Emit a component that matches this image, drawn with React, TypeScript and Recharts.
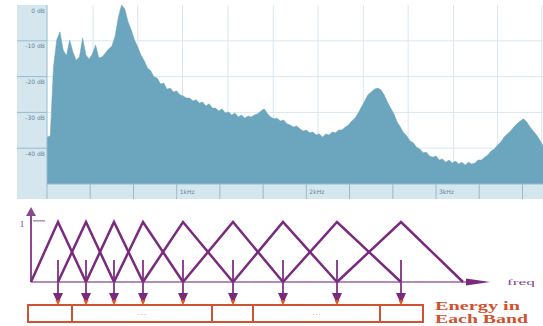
import {
  ComposedChart,
  Area,
  Line,
  Scatter,
  XAxis,
  YAxis,
  CartesianGrid,
  ReferenceLine,
  ReferenceArea,
  ReferenceDot,
} from "recharts"

// spectrum, one bin every 25 Hz starting at 0 Hz
const BIN_HZ = 25
const spectrumDb = [
  -36.9, -36.6, -17.3, -9.8, -7.5, -12.6, -14.2, -9.8, -13.1, -15.4,
  -14.5, -9.2, -14.0, -15.1, -13.7, -11.2, -14.8, -14.5, -13.4, -12.3,
  -11.5, -8.7, -3.4, 0, -1.1, -4.7, -7.0, -9.8, -11.7, -14.0,
  -15.6, -17.6, -18.4, -20.1, -20.4, -22.1, -21.8, -23.5, -23.2, -24.3,
  -24.0, -25.1, -25.4, -26.0, -26.0, -26.8, -26.5, -27.4, -27.1, -28.2,
  -27.6, -28.8, -28.8, -29.6, -29.0, -30.2, -29.9, -30.7, -30.2, -31.3,
  -30.7, -31.6, -31.0, -31.3, -30.7, -30.4, -29.6, -29.0, -30.4, -31.3,
  -31.8, -31.6, -32.4, -32.1, -33.2, -33.5, -34.1, -33.8, -34.6, -35.2,
  -34.9, -35.7, -35.5, -36.3, -36.0, -36.9, -36.0, -36.3, -35.5, -35.7,
  -34.9, -34.9, -34.1, -33.5, -32.4, -31.6, -30.2, -28.5, -26.8, -25.1,
  -24.3, -23.5, -23.2, -23.7, -25.1, -27.1, -28.8, -30.4, -32.7, -34.1,
  -35.7, -36.6, -38.0, -38.5, -39.7, -40.2, -41.3, -41.1, -42.2, -42.5,
  -42.2, -43.3, -43.0, -43.9, -43.3, -44.1, -43.6, -44.4, -43.9, -44.7,
  -43.9, -44.4, -44.1, -43.3, -43.3, -42.5, -41.9, -40.8, -40.2, -39.1,
  -38.3, -36.9, -36.0, -35.2, -34.1, -33.2, -32.4, -31.8, -32.7, -34.1,
  -35.2, -36.3, -37.7, -39.4,
]
const freqTicks = [0, 333, 667, 1000, 1333, 1667, 2000, 2333, 2667, 3000, 3333, 3667]
const freqTickLabels = ["", "", "", "1kHz", "", "", "2kHz", "", "", "3kHz", "", ""]
const gridFreqs = [355, 700, 1045, 1395, 1745, 2090, 2440, 2785, 3135, 3475, 3815]
const dbTicks = [0, -10, -20, -30, -40]
const dbGrid = [-10, -20, -30, -40]

// filterbank (arbitrary freq units), edges of the triangular bands
const bandEdges = [0, 27, 55, 83, 112, 152, 202, 252, 306, 370, 432]
// energy boxes under the arrows
const boxEdges = [-3, 41, 181, 222, 349, 392]
const boxLabels = ["", "···", "", "···", ""]

const spectrum = spectrumDb.map((db, i) => ({ hz: i * BIN_HZ, db }))
const filters = bandEdges.slice(0, -2).map((lo, i) => [
  { f: lo, v: 0 },
  { f: bandEdges[i + 1], v: 1 },
  { f: bandEdges[i + 2], v: 0 },
])
const bandCenters = bandEdges.slice(1, -1)

const PANEL = "#d6e6ee"
const GRID = "#d9e8f1"
const EDGE = "#96bccf"
const FILL = "#6ca5be"
const LABEL = "#5f889d"
const PURPLE = "#7a2b7e"
const SHAFT = "#8b4790"
const LIGHT_PURPLE = "#b48ab8"
const RED = "#cf5330"

const DbTick = (props: any) => {
  const { x, y, payload } = props
  return (
    <g>
      {payload.value !== 0 && <line x1={x - 30} x2={x} y1={y} y2={y} stroke={EDGE} />}
      <text x={x - 2} y={y + 5} textAnchor="end" dominantBaseline="central" fontSize={6} fill={LABEL} fontFamily="DejaVu Sans">
        {payload.value} dB
      </text>
    </g>
  )
}

const FreqTick = (props: any) => {
  const { x, y, payload } = props
  const label = freqTickLabels[freqTicks.indexOf(payload.value)]
  return (
    <g>
      <line x1={x} x2={x} y1={y} y2={y + 15} stroke={EDGE} />
      {label && (
        <text x={x + 3} y={y + 7} dominantBaseline="central" fontSize={6} fill={LABEL} fontFamily="DejaVu Sans">
          {label}
        </text>
      )}
    </g>
  )
}

const DownHead = (p: any) => (
  <g>
    <polygon points={`${p.cx - 5},${p.cy - 11} ${p.cx + 5},${p.cy - 11} ${p.cx},${p.cy}`} fill={PURPLE} />
    <polygon points={`${p.cx - 2.5},${p.cy - 4} ${p.cx + 2.5},${p.cy - 4} ${p.cx},${p.cy + 1}`} fill="#e0561c" />
  </g>
)

const UpHead = (p: any) => (
  <polygon points={`${p.cx - 5},${p.cy + 9} ${p.cx + 5},${p.cy + 9} ${p.cx},${p.cy}`} fill={SHAFT} />
)

const RightHead = (p: any) => (
  <polygon points={`${p.cx - 24},${p.cy - 3.5} ${p.cx - 24},${p.cy + 3.5} ${p.cx},${p.cy}`} fill={PURPLE} />
)

const dotPos = (vb: any) => ({ x: vb.x + (vb.width || 0) / 2, y: vb.y + (vb.height || 0) / 2 })

const FreqLabel = (p: any) => {
  const { x, y } = dotPos(p.viewBox)
  return (
    <text x={x} y={y} dominantBaseline="central" fontSize={9} fill={SHAFT} fontFamily="Liberation Serif" textLength={28} lengthAdjust="spacingAndGlyphs">
      freq
    </text>
  )
}

const EnergyLabel = (p: any) => {
  const { x, y } = dotPos(p.viewBox)
  return (
    <g fontSize={12} fill={RED} fontFamily="Liberation Serif" fontWeight="bold">
      <text x={x} y={y + 1} textLength={85} lengthAdjust="spacingAndGlyphs">
        Energy in
      </text>
      <text x={x} y={y + 14} textLength={93} lengthAdjust="spacingAndGlyphs">
        Each Band
      </text>
    </g>
  )
}

export default function App() {
  return (
    <div style={{ position: "absolute", left: 0, top: 0, width: 543, height: 326, background: "#fff" }}>
      <div style={{ position: "absolute", left: 17, top: 5, width: 526, height: 194, background: PANEL }}>
        <ComposedChart width={526} height={194} data={spectrum} margin={{ top: 0, right: 0, bottom: 0, left: 0 }}>
          <CartesianGrid fill="#fff" stroke={GRID} verticalValues={gridFreqs} horizontalValues={dbGrid} />
          <XAxis
            type="number"
            dataKey="hz"
            domain={[0, 3825]}
            ticks={freqTicks}
            interval={0}
            height={15}
            tickSize={0}
            tickMargin={0}
            tickLine={false}
            axisLine={{ stroke: EDGE }}
            tick={<FreqTick />}
            allowDataOverflow
          />
          <YAxis
            type="number"
            domain={[-50, 0]}
            ticks={dbTicks}
            interval={0}
            width={30}
            tickSize={0}
            tickMargin={0}
            tickLine={false}
            axisLine={{ stroke: EDGE }}
            tick={<DbTick />}
            allowDataOverflow
          />
          <Area
            type="linear"
            dataKey="db"
            baseValue="dataMin"
            stroke={FILL}
            strokeWidth={0.5}
            fill={FILL}
            fillOpacity={1}
            isAnimationActive={false}
          />
        </ComposedChart>
      </div>

      <div style={{ position: "absolute", left: 0, top: 195, width: 543, height: 131 }}>
        <ComposedChart width={543} height={131} margin={{ top: 0, right: 0, bottom: 0, left: 0 }}>
          <XAxis type="number" dataKey="f" domain={[-31, 512]} hide allowDataOverflow />
          <YAxis type="number" domain={[-0.7333, 1.45]} hide allowDataOverflow />

          {/* axes */}
          <ReferenceLine segment={[{ x: 0, y: 0 }, { x: 440, y: 0 }]} stroke={LIGHT_PURPLE} strokeWidth={2} />
          <ReferenceLine segment={[{ x: 0, y: 0 }, { x: 0, y: 1.15 }]} stroke={SHAFT} strokeWidth={2} />
          <ReferenceLine segment={[{ x: 2, y: 1.02 }, { x: 14, y: 1.02 }]} stroke={LIGHT_PURPLE} strokeWidth={1.5} />
          <ReferenceDot
            x={-9}
            y={0.97}
            r={0}
            stroke="none"
            fill="none"
            label={{ value: "1", position: "center", fontSize: 9, fill: PURPLE, fontFamily: "Liberation Serif" }}
          />
          <ReferenceDot x={476} y={0} r={0} stroke="none" fill="none" label={<FreqLabel />} />

          {/* energy boxes */}
          {boxLabels.map((lab, i) => (
            <ReferenceArea
              key={"b" + i}
              x1={boxEdges[i]}
              x2={boxEdges[i + 1]}
              y1={-0.667}
              y2={-0.383}
              fill="#fff"
              fillOpacity={1}
              stroke={RED}
              strokeWidth={2}
              label={lab ? { value: lab, position: "center", fontSize: 9, fill: "#dd8f7c" } : undefined}
            />
          ))}

          {/* arrows from each filter to its box */}
          {bandCenters.map((c) => (
            <ReferenceLine key={"s" + c} segment={[{ x: c, y: 0.367 }, { x: c, y: -0.2 }]} stroke={SHAFT} strokeWidth={2} />
          ))}

          {filters.map((tri, i) => (
            <Line
              key={"t" + i}
              data={tri}
              dataKey="v"
              type="linear"
              stroke={PURPLE}
              strokeWidth={2.5}
              dot={false}
              isAnimationActive={false}
            />
          ))}

          <Scatter data={bandCenters.map((c) => ({ f: c, v: -0.367 }))} dataKey="v" shape={<DownHead />} isAnimationActive={false} />
          <Scatter data={[{ f: 0, v: 1.25 }]} dataKey="v" shape={<UpHead />} isAnimationActive={false} />
          <Scatter data={[{ f: 459, v: 0 }]} dataKey="v" shape={<RightHead />} isAnimationActive={false} />

          <ReferenceDot x={404} y={-0.45} r={0} stroke="none" fill="none" label={<EnergyLabel />} />
        </ComposedChart>
      </div>
    </div>
  )
}
